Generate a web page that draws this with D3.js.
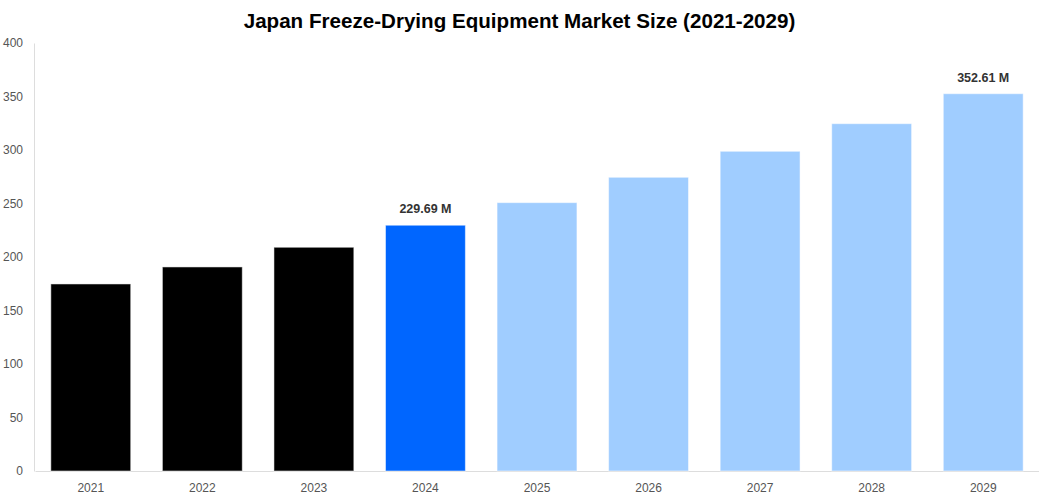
<!DOCTYPE html>
<html>
<head>
<meta charset="utf-8">
<script src="https://cdn.jsdelivr.net/npm/d3@7"></script>
<style>
  html, body { margin: 0; padding: 0; background: #fff; }
  svg { display: block; font-family: "Liberation Sans", Arial, sans-serif; }
</style>
</head>
<body>
<svg id="chart" width="1039" height="500"></svg>
<script>
const years = ["2021","2022","2023","2024","2025","2026","2027","2028","2029"];
const values = [174.8, 190.7, 209.1, 229.69, 250.8, 274.5, 298.8, 324.6, 352.61];
const kinds = ["hist","hist","hist","current","forecast","forecast","forecast","forecast","forecast"];
const labelled = ["2024", "2029"];
const yTicks = [0, 50, 100, 150, 200, 250, 300, 350, 400];
const colors = { hist: "#000000", current: "#0066ff", forecast: "#a0cdff" };
const titleText = "Japan Freeze-Drying Equipment Market Size (2021-2029)";

const svg = d3.select("#chart");
const margin = { top: 43, right: 0, bottom: 29, left: 34 };
const W = 1039, H = 500;

const x = d3.scaleBand().domain(years).range([margin.left + 1, W - margin.right]).paddingInner(0.284).paddingOuter(0.142);
const y = d3.scaleLinear().domain([0, 400]).range([H - margin.bottom, margin.top]);

svg.append("text")
  .attr("x", W / 2).attr("y", 28)
  .attr("text-anchor", "middle")
  .style("font-size", "20.6px").style("font-weight", "bold").style("fill", "#000")
  .text(titleText);

// Y axis
const yAxis = svg.append("g").attr("transform", `translate(${margin.left},0)`)
  .call(d3.axisLeft(y).tickValues(yTicks).tickSize(0).tickPadding(11));
yAxis.select(".domain").attr("stroke", "#ddd");
yAxis.selectAll("text").style("font-size", "12px").style("fill", "#555");

// X axis
const xAxis = svg.append("g").attr("transform", `translate(0,${H - margin.bottom})`)
  .call(d3.axisBottom(x).tickSize(0).tickPadding(12));
xAxis.select(".domain").attr("stroke", "#ddd");
xAxis.selectAll("text").style("font-size", "12px").style("fill", "#555");

// Bars
svg.append("g").selectAll("rect").data(years).join("rect")
  .attr("x", d => x(d))
  .attr("y", (d, i) => y(values[i]))
  .attr("width", x.bandwidth())
  .attr("height", (d, i) => y(0) - y(values[i]))
  .attr("fill", (d, i) => colors[kinds[i]])
  .attr("stroke", "rgba(255,255,255,0.5)")
  .attr("stroke-width", 1);

// Value labels
svg.append("g").selectAll("text").data(years.filter(d => labelled.includes(d))).join("text")
  .attr("x", d => x(d) + x.bandwidth() / 2)
  .attr("y", d => y(values[years.indexOf(d)]) - 12)
  .attr("text-anchor", "middle")
  .style("font-size", "12.5px").style("font-weight", "bold").style("fill", "#333")
  .text(d => values[years.indexOf(d)].toFixed(2) + " M");
</script>
</body>
</html>
